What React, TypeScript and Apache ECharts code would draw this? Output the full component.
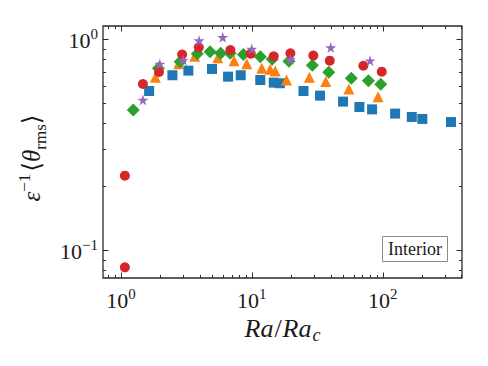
import React, { useEffect, useRef } from "react";
import * as echarts from "echarts";

// Ra/Ra_c values and epsilon^-1 <theta_rms> values per series
const blueX = [1.64, 2.47, 3.27, 4.96, 6.58, 8.22, 11.6, 14.7, 16.4, 24.8, 33.2, 49.8, 66.4, 83, 124.5, 167, 201, 333];
const blueY = [0.567, 0.673, 0.708, 0.721, 0.663, 0.673, 0.639, 0.621, 0.617, 0.567, 0.539, 0.505, 0.476, 0.464, 0.443, 0.427, 0.418, 0.404];

const orangeX = [1.83, 2.76, 3.66, 5.49, 7.31, 9.14, 11.9, 13.8, 15.1, 18.4, 27.5, 36.7, 55.1, 92.2];
const orangeY = [0.658, 0.764, 0.828, 0.815, 0.789, 0.764, 0.726, 0.718, 0.705, 0.639, 0.658, 0.628, 0.58, 0.533];

const greenX = [1.24, 1.93, 2.83, 3.83, 4.79, 5.78, 6.82, 8.61, 11.6, 14.3, 19.2, 29, 38.7, 57.6, 77.8, 96.7];
const greenY = [0.461, 0.726, 0.781, 0.852, 0.871, 0.855, 0.855, 0.843, 0.824, 0.801, 0.784, 0.75, 0.695, 0.651, 0.634, 0.61];

const redX = [1.07, 1.07, 1.47, 1.95, 2.93, 3.93, 6.85, 9.81, 14.7, 19.7, 29.5, 39.4, 71.2, 98.4];
const redY = [0.225, 0.0828, 0.612, 0.698, 0.843, 0.913, 0.887, 0.852, 0.828, 0.855, 0.834, 0.789, 0.747, 0.7];

const purpleX = [1.47, 1.98, 2.99, 3.95, 5.99, 9.98, 19.7, 40.1, 80.1];
const purpleY = [0.514, 0.761, 0.795, 0.982, 1.019, 0.897, 0.801, 0.91, 0.789];

// axis ranges and tick values
const xRange = [0.728, 404];
const yRange = [0.0737, 1.152];
const xMajorTicks = [1, 10, 100];
const yMajorTicks = [0.1, 1];
const xMinorTicks = [0.8, 0.9, 2, 3, 4, 5, 6, 7, 8, 9, 20, 30, 40, 50, 60, 70, 80, 90, 200, 300, 400];
const yMinorTicks = [0.08, 0.09, 0.2, 0.3, 0.4, 0.5, 0.6, 0.7, 0.8, 0.9];

const boxLabel = "Interior";

const SERIF = "'Liberation Serif', 'DejaVu Serif', serif";
const INK = "#1a1a1a";

const STAR = "path://M50,0 L61.2,34.5 L97.6,34.5 L68.2,55.9 L79.4,90.5 L50,69.1 L20.6,90.5 L31.8,55.9 L2.4,34.5 L38.8,34.5 Z";

const zip = (xs: number[], ys: number[]) => xs.map((x, i) => [x, ys[i]]);

export default function App() {
  const ref = useRef<HTMLDivElement>(null);

  useEffect(() => {
    document.body.style.margin = "0";
    const chart = echarts.init(ref.current!, null, { renderer: "svg" });

    const tickLabel = (v: number) => {
      const e = Math.log10(v);
      const r = Math.round(e);
      if (Math.abs(e - r) > 1e-6) return "";
      return `{b|10}{s|${r < 0 ? "\u2212" + -r : r}}`;
    };
    const tickRich = {
      b: { fontSize: 22, fontFamily: SERIF, color: INK, verticalAlign: "bottom" },
      s: { fontSize: 15, fontFamily: SERIF, color: INK, verticalAlign: "bottom", padding: [0, 0, 10, 0] },
    };

    const tickData: number[][] = [];
    xMajorTicks.forEach((v) => tickData.push([v, 1, 0, 5.5]));
    xMinorTicks.forEach((v) => tickData.push([v, 1, 0, 3]));
    yMajorTicks.forEach((v) => tickData.push([10, v, 1, 5.5]));
    yMinorTicks.forEach((v) => tickData.push([10, v, 1, 3]));

    const scatter = (name: string, xs: number[], ys: number[], color: string, symbol: string, size: number) => ({
      name,
      type: "scatter",
      data: zip(xs, ys),
      symbol,
      symbolSize: size,
      itemStyle: { color, opacity: 1 },
      emphasis: { disabled: true },
    });

    chart.setOption({
      animation: false,
      grid: {
        left: 103,
        top: 26,
        right: 26,
        bottom: 88,
        show: true,
        borderColor: "#2a2a2a",
        borderWidth: 1.3,
        backgroundColor: "transparent",
        containLabel: false,
        outerBoundsMode: "none",
      },
      xAxis: {
        type: "log",
        min: xRange[0],
        max: xRange[1],
        logBase: 10,
        name: "{i|Ra}{n|/}{i|Ra}{sub|c}",
        nameLocation: "middle",
        nameGap: 35,
        nameTextStyle: {
          rich: {
            i: { fontSize: 26, fontStyle: "italic", fontFamily: SERIF, color: INK, verticalAlign: "top" },
            n: { fontSize: 26, fontFamily: SERIF, color: INK, verticalAlign: "top", padding: [0, 1, 0, 1] },
            sub: { fontSize: 18, fontStyle: "italic", fontFamily: SERIF, color: INK, verticalAlign: "top", padding: [10, 0, 0, 1] },
          },
        },
        axisLine: { show: false },
        axisTick: { show: false },
        splitLine: { show: false },
        minorTick: { show: false },
        axisLabel: { formatter: tickLabel, rich: tickRich, margin: 8, showMinLabel: true, showMaxLabel: true },
      },
      yAxis: {
        type: "log",
        min: yRange[0],
        max: yRange[1],
        logBase: 10,
        name: "{e|\u03b5}{s|\u22121}{p|\u27e8}{t|\u03b8}{sub|rms}{p|\u27e9}",
        nameLocation: "middle",
        nameRotate: 90,
        nameGap: 52,
        nameTextStyle: {
          padding: [0, 12, 0, 0],
          rich: {
            e: { fontSize: 25, fontStyle: "italic", fontFamily: SERIF, color: INK, verticalAlign: "bottom" },
            s: { fontSize: 17, fontFamily: SERIF, color: INK, verticalAlign: "bottom", padding: [0, 2, 11, 0] },
            p: { fontSize: 25, fontFamily: SERIF, color: INK, verticalAlign: "bottom" },
            t: { fontSize: 25, fontStyle: "italic", fontFamily: SERIF, color: INK, verticalAlign: "bottom" },
            sub: { fontSize: 17, fontFamily: SERIF, color: INK, verticalAlign: "bottom", padding: [0, 0, -5, 0] },
          },
        },
        axisLine: { show: false },
        axisTick: { show: false },
        splitLine: { show: false },
        minorTick: { show: false },
        axisLabel: { formatter: tickLabel, rich: tickRich, margin: 5 },
      },
      tooltip: { show: false },
      series: [
        {
          type: "custom",
          coordinateSystem: "cartesian2d",
          silent: true,
          clip: false,
          data: tickData,
          renderItem: (params: any, api: any) => {
            const cs = params.coordSys;
            const p = api.coord([api.value(0), api.value(1)]);
            const isY = api.value(2) === 1;
            const len = api.value(3);
            const style = { stroke: "#2a2a2a", lineWidth: 1 };
            if (!isY) {
              const x = Math.round(p[0]) + 0.5;
              return {
                type: "group",
                children: [
                  { type: "line", shape: { x1: x, y1: cs.y + cs.height, x2: x, y2: cs.y + cs.height - len }, style },
                  { type: "line", shape: { x1: x, y1: cs.y, x2: x, y2: cs.y + len }, style },
                ],
              };
            }
            const y = Math.round(p[1]) + 0.5;
            return {
              type: "group",
              children: [
                { type: "line", shape: { x1: cs.x, y1: y, x2: cs.x + len, y2: y }, style },
                { type: "line", shape: { x1: cs.x + cs.width, y1: y, x2: cs.x + cs.width - len, y2: y }, style },
              ],
            };
          },
        },
        scatter("blue", blueX, blueY, "#1f77b4", "rect", 10),
        scatter("orange", orangeX, orangeY, "#ff7f0e", "triangle", 11),
        scatter("green", greenX, greenY, "#2ca02c", "diamond", 13),
        scatter("red", redX, redY, "#d62728", "circle", 10),
        scatter("purple", purpleX, purpleY, "#9467bd", STAR, 11),
      ],
      graphic: [
        {
          type: "group",
          right: 40,
          bottom: 104,
          children: [
            {
              type: "rect",
              shape: { x: 0, y: 0, width: 65, height: 25 },
              style: { fill: "#fff", stroke: "#8c8c8c", lineWidth: 1 },
            },
            {
              type: "text",
              x: 32.5,
              y: 12.5,
              style: {
                text: boxLabel,
                fontSize: 18,
                fontFamily: SERIF,
                fill: INK,
                align: "center",
                verticalAlign: "middle",
              },
            },
          ],
        },
      ],
    });

    return () => chart.dispose();
  }, []);

  return <div ref={ref} style={{ width: 488, height: 366 }} />;
}
